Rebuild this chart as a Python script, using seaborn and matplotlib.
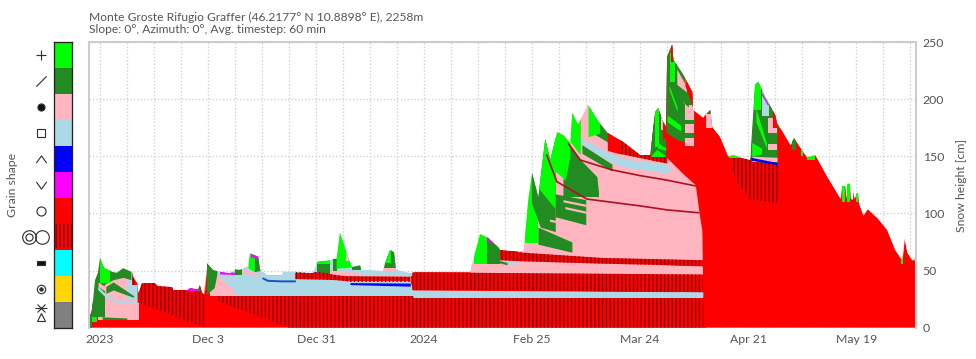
import numpy as np
import seaborn as sns
import matplotlib.pyplot as plt
from matplotlib.colors import ListedColormap
from matplotlib.path import Path

# days counted from 5 Nov 2023, heights in cm
tick_days = [0, 28, 56, 84, 112, 140, 168, 196]
tick_labels = ['2023', 'Dec 3', 'Dec 31', '2024', 'Feb 25', 'Mar 24', 'Apr 21', 'May 19']
height_ticks = [0, 50, 100, 150, 200, 250]
title_lines = ['Monte Groste Rifugio Graffer (46.2177° N 10.8898° E), 2258m',
               'Slope: 0°, Azimuth: 0°, Avg. timestep: 60 min']

snow_days = [-2.7, -2.6, -1.8, -1.3, -0.5, 0, 1, 3.4, 4.4, 6, 8.3, 8.6, 9.6, 9.9, 10.9, 14.3, 14.8,
             18.7, 18.9, 22.8, 23.3, 25.4, 25.9, 26.4, 27, 27.7, 29.3, 30.3, 33.7, 35, 36.3, 38.4,
             38.9, 41, 41.5, 43.3, 47.2, 47.4, 50.6, 55.2, 56.3, 59.6, 61.4, 62.2, 63.5, 64.3, 65.3,
             67.4, 67.7, 73.4, 73.9, 75.2, 76.2, 76.7, 80.4, 81.2, 95.9, 96.7, 98.5, 100.6, 103.2,
             103.7, 109.7, 110, 111, 112, 113.6, 115.4, 116.7, 118.5, 120, 121.9, 122.4, 123.9,
             126.5, 128.9, 131.5, 135.6, 140, 142.6, 143.9, 144.7, 145.7, 146.7, 147, 148.3, 148.6,
             151.2, 153.5, 153.7, 156.3, 157.4, 158.2, 158.7, 160.7, 162.8, 164.1, 168.5, 169.8,
             170.6, 172.4, 175, 175.5, 177.1, 178.9, 179.9, 182.3, 183.3, 185.4, 188.5, 191.9,
             192.2, 193.2, 193.4, 193.7, 194.4, 194.6, 195, 195.2, 195.5, 196, 196.5, 196.7, 197.8,
             198.9, 201.5, 204, 206.1, 207.9, 208.5, 209.2, 210.5, 211.6]
snow_height = [0.5, 11, 24, 41.5, 48.5, 61, 52, 48.5, 48, 52, 48.5, 44, 39, 30, 39, 39, 36.5,
               35.5, 33, 33, 34.5, 33.5, 37, 31, 28.5, 56.5, 50.5, 49.5, 47.5, 51, 50.5, 54,
               65, 62, 50.5, 46, 46, 49, 49, 47.5, 57.5, 59, 61.5, 83, 69.5, 61.5, 53,
               54.5, 50.5, 49.5, 56.5, 68, 66, 50.5, 47.5, 48.5, 48.5, 59, 82, 78.5, 70.5,
               68, 67, 74, 111.5, 135, 114, 165, 146.5, 171, 168.5, 161.5, 188, 177.5,
               195, 181.5, 170.5, 162.5, 151, 151, 188.5, 192, 181.5, 175.5, 237, 247.5, 234,
               221, 206, 190.5, 183.5, 188, 190.5, 175.5, 167, 150, 151, 146.5, 212.5,
               215, 202, 186, 179, 170.5, 160, 166, 153.5, 149, 151, 132, 113,
               124, 124, 113, 126, 126, 113, 112, 121, 113, 117.5, 117.5, 109, 98.5,
               104, 96, 85.5, 68, 59, 79, 66, 59, 61.5]

# grain shape classes of the colour strip
grain_colors = ['#00ff00', '#228b22', '#ffb6c1', '#add8e6', '#0000ff', '#ff00ff',
                '#ff0000', '#ff0000', '#00ffff', '#ffd700', '#808080']
LIME, FOREST, PINK, SKY, BLUE, MAGENTA, RED = grain_colors[:7]
TOP = 262

# layers as (days, lower, upper), painted from first to last, cut off at snow_height
early_layers = [
    (PINK, [-0.5, 10], 6.6, TOP),
    (SKY, [6.9, 10], 24, TOP),
    (FOREST, [-2.2, 1.3], 9.5, TOP),
    (FOREST, [-2.7, -2.2], 0, 12),
    (LIME, [-2.2, -0.9], 5, 9),
    (FOREST, [0.5, 7], 7.5, [9.5, 8.5]),
    (PINK, [-0.5, 3], [36, 28], [40, 33]),
    (SKY, [-0.6, 1.3, 4.3, 10], [33.4, 27, 21.8, 21.2], [36.4, 30, 24, 23.2]),
    (FOREST, [1.5, 3.4, 8.7], [30, 33, 26.5], [36, 40, 28]),
    (FOREST, [0.5, 3.4, 6, 8], [37, 42, 44, 42], TOP),
    (LIME, [0, 2.6], 39, TOP),
]
hatch_early = [([8.4, 10], 37, 50),
               ([9.8, 27.3], [22, 0], 45),
               ([30, 49, 156.4], [24, 0, 0], [28, 28, 27])]

dec_layers = [
    (SKY, [28.5, 81], 27.5, TOP),
    (PINK, [28.5, 29.5, 35], 28.5, [30, 50, 31]),
    (PINK, [36, 41.5], [48, 45.5], [53, 47]),
    (FOREST, [27.6, 29.6, 30.3], [29, 35, 47], TOP),
    (MAGENTA, [31, 35], [47, 46.5], [49.5, 48.5]),
    (FOREST, [35, 36.8], 46, 53),
    (LIME, [38.4, 40], [52, 49], TOP),
    (FOREST, [40, 41.5], [49, 50], TOP),
    (MAGENTA, [39, 41.5], [62, 60], TOP),
    (MAGENTA, [22.5, 25.4], 32.5, TOP),
    (FOREST, [25.4, 26], 31, TOP),
    (PINK, [57, 60, 70, 80.4], [47.5, 45, 44.5, 44], [50, 51, 47, 45]),
    (SKY, [68, 80.4], 45.5, TOP),
    (FOREST, [56.3, 59.6], 47, 58),
    (LIME, [56.3, 59.6], 55.5, TOP),
    (MAGENTA, [54.6, 56.3], 46.5, 49),
    (FOREST, [60.5, 61.5], 50, 60),
    (LIME, [61.2, 65.5], [52, 53], TOP),
    (PINK, [63.8, 65.3], 58, TOP),
    (FOREST, [65.3, 67.7], 50.5, TOP),
    (PINK, [73.4, 76.7], 48.5, 52),
    (FOREST, [73.4, 76.7], 52, TOP),
    (LIME, [73.9, 75.5], 57, TOP),
    (BLUE, [64.8, 80.4], [37.7, 36.3], [39.4, 39]),
    (RED, [80.4, 81.2], [40, 33], 45),
]
hatch_dec = [([50.6, 58, 61, 64, 80.4], [42.5, 42, 41.6, 40.7, 40.7], [48, 48, 46, 45, 44.5])]

late_layers = [
    (SKY, [81, 150, 156.4], 27, [33, 31.5, 31.5]),
    (PINK, [96, 104, 156.4], 46, [60, 60, 54]),
    (SKY, [105, 112.3], [56, 55], [58, 57.5]),
    (LIME, [97, 100.2], 56, TOP),
    (FOREST, [100.2, 103.7], 56, TOP),
    (MAGENTA, [100.2, 102], [76, 74], [80, 76]),
    (FOREST, [103.2, 105.5], [57, 55], [59, 57]),
    (PINK, [108, 156.4], 55, TOP),
    (LIME, [110.2, 113.6], 74, TOP),
    (FOREST, [113.5, 122.3], [73, 66], [88, 75]),
    (FOREST, [111.8, 114.1, 118], [110, 88, 84], TOP),
    (LIME, [113.6, 115.8, 118], [122, 113, 104], TOP),
    (FOREST, [118, 125.9], [97, 90], [117, 112]),
    (PINK, [120, 125.9], [110, 106], [112, 108]),
    (PINK, [120.5, 125.9], [104, 100], [106, 102]),
    (PINK, [116.5, 121], [93, 90], [95, 92]),
    (FOREST, [120.1, 129.2], [117, 114.5], 120),
    (FOREST, [120, 121.4, 124.5, 128.8, 129.2], [115, 115, 115, 115, 115], [172, 161, 147, 132, 118]),
    (LIME, [116.7, 120.6], [141, 129], TOP),
    (LIME, [120.6, 121.8], [129, 150], TOP),
    (LIME, [121.9, 124.5], [162.7, 151], TOP),
    (SKY, [124.5, 132.2, 136.5, 147.5], [161, 145, 140, 135], [166, 152.5, 147, 143]),
    (FOREST, [124.9, 132.7], [152.5, 137], [160, 143]),
    (FOREST, [127, 131.4, 132.8], [171.5, 162.7, 155.4], TOP),
    (LIME, [126.5, 129.5], [167, 170], TOP),
    (RED, [131.5, 134.8], [155, 152], TOP),
]
hatch_late = [([81, 96, 156.4], [33, 33, 31], [48.5, 48, 46.5]),
              ([103.7, 110, 130, 156.4], [59, 58, 56, 54], [68, 65.5, 61, 59]),
              ([134.8, 147], [152, 143.5], TOP)]

peak_layers = [
    (FOREST, [142.9, 146.7], 150, TOP),
    (LIME, [142.7, 144.3, 146.7], 150, [150, 156, 150]),
    (LIME, [143.8, 145], 158, TOP),
    (LIME, [144.5, 146.7], [157, 155], [162, 157]),
    (PINK, [145.3, 146.2], 173, TOP),
    (RED, [145.9, 146.7], 165, TOP),
    (RED, [146.7, 151, 154.3, 155.3, 156, 156.4, 157], [149.5, 135, 125, 100, 85, 0, 0], TOP),
    (FOREST, [146.7, 149, 153.9], [171, 165.5, 158.5], TOP),
    (PINK, [149.5, 152], [205, 193], TOP),
    (PINK, [151.5, 153.9], 158.5, 195),
    (FOREST, [148.6, 152.5], [205, 193], [215, 205]),
    (FOREST, [151.5, 153.9], 178, 182),
    (FOREST, [151.5, 153.9], 166, 170),
    (LIME, [147.5, 149.6], [208, 189], [212, 193]),
    (LIME, [147, 150.5], [180, 172], [186, 177]),
    (LIME, [147.8, 149], 215, 240),
    (FOREST, [149.2, 151.5], [228, 214], TOP),
    (RED, [151.6, 153.7], [212, 192], TOP),
    (RED, [148, 148.7], 232, TOP),
    (PINK, [157, 158.5], 175, TOP),
    (FOREST, [157.3, 158.3], 187, TOP),
    (LIME, [163, 165.5], 148, TOP),
]
hatch_spring = [([163.8, 165, 168.5, 175.7], [140, 128, 112, 109], 148)]

april_layers = [
    (FOREST, [168.5, 175.5], [146, 143], TOP),
    (PINK, [169, 175.5], 145.5, [150, 149]),
    (PINK, [173.2, 175.5], 170, 183),
    (PINK, [173.2, 175.5], 155, 161),
    (SKY, [171.5, 173.5], 185, TOP),
    (LIME, [169.5, 171.2], 190, TOP),
    (LIME, [170, 172.7], [180, 157], [192, 162]),
    (LIME, [168.9, 171.5], [150, 152], [162, 157]),
    (BLUE, [168.7, 175.5], [146.5, 142.5], [149, 144.5]),
    (RED, [174.5, 175.5], 175, TOP),
    (LIME, [176, 177.5], 175, TOP),
    (FOREST, [179.3, 180.3], 155, TOP),
    (LIME, [181.7, 182.2], 150, TOP),
    (LIME, [183.3, 185.4], 147, TOP),
    (LIME, [192.2, 193.2], 110, TOP),
    (LIME, [193.7, 194.4], 110, TOP),
    (LIME, [196, 196.5], 110, TOP),
    (LIME, [207.7, 208.1], 56, TOP),
    (LIME, [211, 211.6], 58, TOP),
]

# thin crusts and lines
crust_low_days = [115.8, 118.4, 126.2, 140, 147, 155.2]
crust_low_height = [151, 127.7, 112.5, 106.5, 103, 100.5]
crust_high_days = [121.4, 124.5, 132.7, 140, 147, 154.3]
crust_high_height = [161, 146.6, 138, 133, 129, 124]
blue_line_days = [42.3, 43.5, 47, 50.6]
blue_line_height = [43, 41, 40.5, 40.5]
purple_line_days = [171.5, 173.2]
purple_line_height = [205, 195]

sns.set_theme(style='white')
plt.rcParams['font.family'] = ['Lato', 'DejaVu Sans']
plt.rcParams['hatch.linewidth'] = 1.0
text_color = '#555555'
stripe_color = '#7a0000'

W, H = 976, 359
fig = plt.figure(figsize=((W + 0.2) / 93, (H + 0.2) / 93), dpi=93)
ax = fig.add_axes([89 / W, 1 - 327.7 / H, 827 / W, 285.7 / H])
ax_strip = fig.add_axes([54 / W, 1 - 327.7 / H, 17.5 / W, 285.7 / H])

# main panel
ax.fill_between(snow_days, 0, snow_height, color=RED, linewidth=0)


def draw_layers(layers):
    for color, days, low, high in layers:
        ax.fill_between(days, low, high, color=color, linewidth=0)


def draw_stripes(layers):
    for days, low, high in layers:
        ax.fill_between(days, low, high, facecolor=RED, edgecolor=stripe_color, hatch='||||', linewidth=0)


draw_layers(early_layers)
draw_stripes(hatch_early)
draw_layers(dec_layers)
draw_stripes(hatch_dec)
draw_layers(late_layers)
draw_stripes(hatch_late)
draw_layers(peak_layers)
draw_stripes(hatch_spring)
draw_layers(april_layers)

sns.lineplot(x=crust_low_days, y=crust_low_height, ax=ax, color='#b01020', linewidth=1.3, errorbar=None)
sns.lineplot(x=crust_high_days, y=crust_high_height, ax=ax, color='#b01020', linewidth=1.3, errorbar=None)
sns.lineplot(x=blue_line_days, y=blue_line_height, ax=ax, color='#2050c0', linewidth=1.5, errorbar=None)
sns.lineplot(x=purple_line_days, y=purple_line_height, ax=ax, color='#a040c0', linewidth=1.2, errorbar=None)

# keep everything under the snow surface
outline = Path(np.column_stack([snow_days + [snow_days[-1], snow_days[0]],
                                snow_height + [0, 0]]))
for item in list(ax.collections) + list(ax.lines):
    item.set_clip_path(outline, transform=ax.transData)

ax.set_xlim(-2.85, 211.55)
ax.set_ylim(0, 250)
ax.set_xticks(tick_days)
ax.set_xticklabels(tick_labels)
ax.set_xticks(np.arange(0, 211, 7), minor=True)
ax.set_yticks(height_ticks)
ax.yaxis.tick_right()
ax.yaxis.set_label_position('right')
ax.set_ylabel('Snow height [cm]', fontsize=9.5, color=text_color, labelpad=9)
ax.set_axisbelow(True)
ax.grid(True, which='both', color='#cccccc', linestyle=':', linewidth=1)
ax.tick_params(axis='both', which='major', labelsize=9.5, labelcolor=text_color, length=0, pad=5)
ax.tick_params(axis='x', which='minor', length=0)
for spine in ax.spines.values():
    spine.set_color('#cccccc')
    spine.set_linewidth(1.6)
ax.spines['bottom'].set_visible(False)

# grain shape strip with its symbols
strip = np.arange(len(grain_colors)).reshape(-1, 1)
sns.heatmap(strip, ax=ax_strip, cmap=ListedColormap(grain_colors), cbar=False,
            xticklabels=False, yticklabels=False)
ax_strip.fill_between([0, 1], 7, 7.95, facecolor=RED, edgecolor=stripe_color, hatch='||||', linewidth=0)
for spine in ax_strip.spines.values():
    spine.set_visible(True)
    spine.set_color('#222222')
    spine.set_linewidth(1)

sym = '#333333'
chevron_up = Path([(-1, -0.7), (0, 0.7), (1, -0.7)])
chevron_down = Path([(-1, 0.7), (0, -0.7), (1, 0.7)])
slash = Path([(-1, -1), (1, 1)])
wide_box = Path([(-1, -0.6), (1, -0.6), (1, 0.6), (-1, 0.6), (-1, -0.6)])
sx = -0.75
kw = dict(clip_on=False, linestyle='none', markeredgecolor=sym, markeredgewidth=0.9)
ax_strip.plot(sx, 0.5, marker='+', markersize=8, **kw)
ax_strip.plot(sx, 1.5, marker=slash, markersize=8, markerfacecolor='none', **kw)
ax_strip.plot(sx, 2.5, marker='o', markersize=5.5, markerfacecolor='#111111', **kw)
ax_strip.plot(sx, 3.5, marker='s', markersize=6.5, markerfacecolor='none', **kw)
ax_strip.plot(sx, 4.5, marker=chevron_up, markersize=8, markerfacecolor='none', **kw)
ax_strip.plot(sx, 5.5, marker=chevron_down, markersize=8, markerfacecolor='none', **kw)
ax_strip.plot(sx, 6.5, marker='o', markersize=7, markerfacecolor='none', **kw)
ax_strip.plot(-1.43, 7.5, marker='o', markersize=10.5, markerfacecolor='none', **kw)
ax_strip.plot(-1.43, 7.5, marker='o', markersize=5.5, markerfacecolor='none', **kw)
ax_strip.plot(-0.66, 7.5, marker='o', markersize=10.5, markerfacecolor='none', **kw)
ax_strip.plot(sx, 8.5, marker=wide_box, markersize=6, markerfacecolor='#111111', **kw)
ax_strip.plot(sx, 9.5, marker='o', markersize=6.5, markerfacecolor='none', **kw)
ax_strip.plot(sx, 9.5, marker='o', markersize=2.5, markerfacecolor=sym, **kw)
ax_strip.plot(sx, 10.6, marker='^', markersize=6.5, markerfacecolor='none', **kw)
ax_strip.plot(sx, 10.25, marker='x', markersize=6, **kw)
ax_strip.plot(sx, 10.25, marker='_', markersize=9, **kw)

fig.text(12 / W, 1 - 185 / H, 'Grain shape', rotation=90, va='center', ha='center',
         fontsize=9.5, color=text_color)
fig.text(89 / W, 1 - 17 / H, title_lines[0], va='center', ha='left', fontsize=9.3, color=text_color)
fig.text(89 / W, 1 - 29.5 / H, title_lines[1], va='center', ha='left', fontsize=9.3, color=text_color)

fig.savefig('out.png', dpi=93)
